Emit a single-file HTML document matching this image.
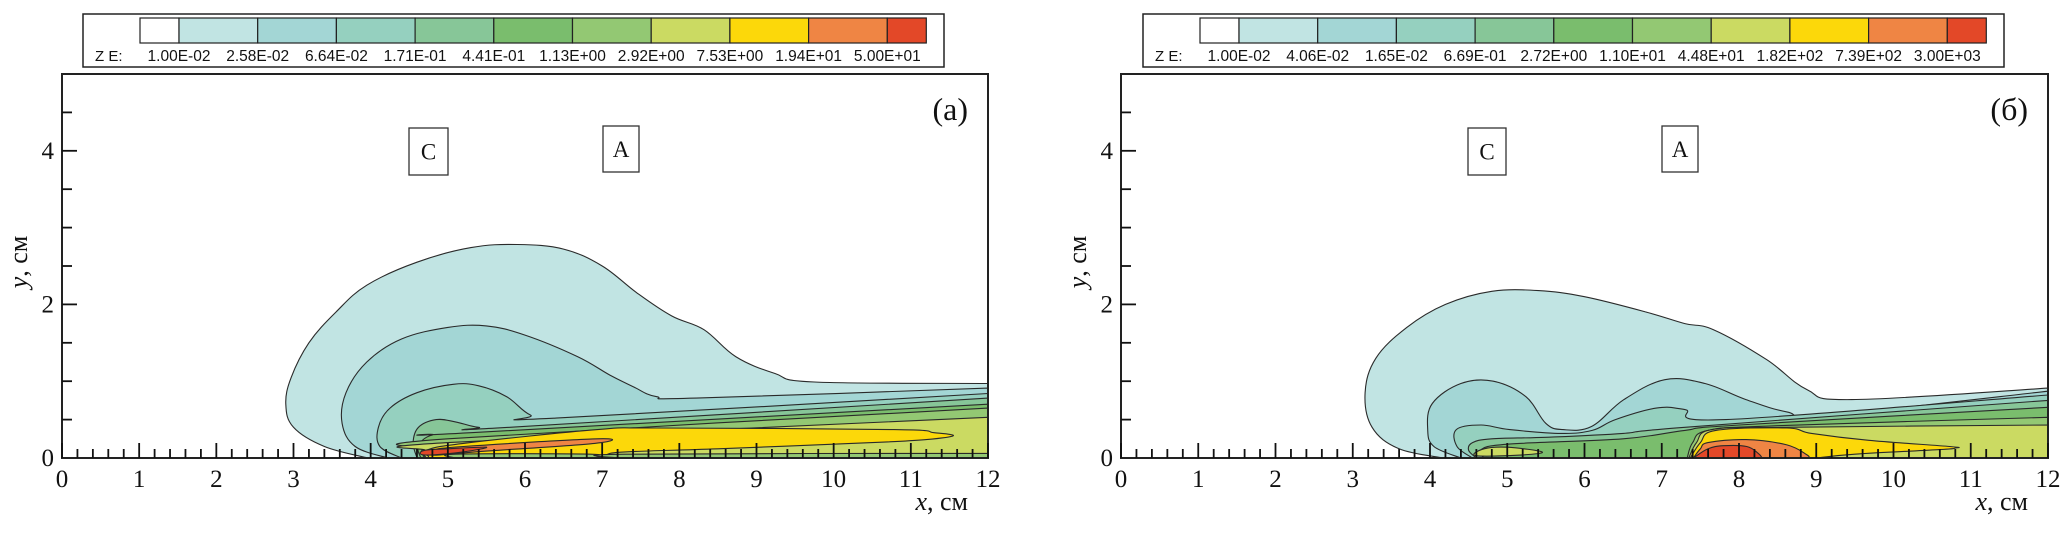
<!DOCTYPE html>
<html><head><meta charset="utf-8">
<style>
html,body{margin:0;padding:0;background:#fff;}
svg{display:block;}
</style></head>
<body>
<svg id="chart" width="2067" height="540" viewBox="0 0 2067 540" xmlns="http://www.w3.org/2000/svg"></svg>
<script>
// ---- data ----
const bandColors = ["#c1e4e3","#a3d6d5","#95d0bf","#87c698","#7abd6d","#93c873","#cbda62","#fcd80a","#ef8544","#e34828"];
const labelsA = ["1.00E-02","2.58E-02","6.64E-02","1.71E-01","4.41E-01","1.13E+00","2.92E+00","7.53E+00","1.94E+01","5.00E+01"];
const labelsB = ["1.00E-02","4.06E-02","1.65E-02","6.69E-01","2.72E+00","1.10E+01","4.48E+01","1.82E+02","7.39E+02","3.00E+03"];
const xTickLabels = [0,1,2,3,4,5,6,7,8,9,10,11,12];
const yTickLabels = [0,2,4];

const contoursA = [
 [[3.96,0],[3.4,0.15],[3.0,0.4],[2.9,0.7],[2.97,1.05],[3.2,1.5],[3.55,1.9],[3.95,2.25],[4.6,2.55],[5.3,2.74],[5.9,2.78],[6.5,2.72],[7.0,2.5],[7.45,2.15],[7.9,1.85],[8.32,1.67],[8.73,1.32],[9.24,1.1],[9.75,0.99],[12,0.97],[12,0]],
 [[4.22,0],[3.8,0.15],[3.63,0.45],[3.68,0.85],[3.95,1.25],[4.4,1.55],[5.0,1.7],[5.5,1.72],[6.0,1.6],[6.68,1.32],[7.1,1.08],[7.4,0.93],[7.7,0.8],[8.22,0.78],[12,0.91],[12,0]],
 [[4.4,0],[4.12,0.15],[4.1,0.4],[4.25,0.65],[4.6,0.85],[5.07,0.96],[5.4,0.94],[5.76,0.8],[6.07,0.56],[6.4,0.52],[12,0.84],[12,0]],
 [[4.6,0],[4.55,0.2],[4.62,0.4],[4.85,0.5],[5.1,0.47],[5.4,0.4],[5.8,0.4],[12,0.78],[12,0]],
 [[4.65,0],[4.62,0.15],[4.8,0.3],[5.3,0.33],[12,0.7],[12,0]],
 [[4.7,0],[4.68,0.12],[5.0,0.25],[12,0.65],[12,0]],
 [[4.72,0],[4.7,0.1],[5.0,0.2],[12,0.53],[12,0]],
 [[4.75,0.02],[4.72,0.1],[5.2,0.19],[6.94,0.37],[7.7,0.39],[10.78,0.37],[11.3,0.33],[11.55,0.29],[11.2,0.24],[10.5,0.2],[8.5,0.12],[7.3,0.08],[7.05,0.04],[7.0,0],[4.75,0]],
 [[4.75,0.05],[4.8,0.1],[5.2,0.15],[6.94,0.25],[6.9,0.19],[5.5,0.09],[4.9,0.04]],
 [[4.65,0.05],[4.7,0.1],[5.0,0.12],[5.5,0.14],[5.2,0.08],[4.8,0.04]]
];
const stripsA = [[[5.1,0],[5.1,0.05],[6.85,0.05],[6.9,0]],[[7.2,0],[7.3,0.05],[12,0.06],[12,0]]];
const stripLevelA = [5,5];

const contoursB = [
 [[4.17,0],[3.6,0.12],[3.25,0.4],[3.16,0.85],[3.3,1.3],[3.7,1.7],[4.2,2.0],[4.8,2.17],[5.4,2.18],[6.0,2.1],[6.8,1.9],[7.3,1.75],[7.67,1.67],[8.36,1.28],[8.88,0.89],[9.46,0.76],[12,0.91],[12,0]],
 [[4.4,0],[4.05,0.15],[3.97,0.37],[4.03,0.71],[4.4,0.97],[4.82,1.0],[5.24,0.8],[5.5,0.45],[5.72,0.37],[6.09,0.41],[6.51,0.76],[7.04,1.02],[7.56,0.97],[8.09,0.76],[8.62,0.6],[9.15,0.56],[12,0.87],[12,0]],
 [[4.55,0],[4.35,0.15],[4.34,0.37],[4.66,0.43],[5.03,0.37],[5.7,0.32],[6.1,0.36],[6.4,0.5],[6.93,0.65],[7.3,0.63],[7.83,0.5],[12,0.82],[12,0]],
 [[4.6,0],[4.5,0.1],[4.55,0.2],[4.8,0.25],[5.5,0.27],[6.5,0.32],[7.3,0.4],[12,0.75],[12,0]],
 [[4.7,0],[4.65,0.1],[5.0,0.18],[6.5,0.25],[7.3,0.36],[8,0.43],[12,0.66],[12,0]],
 [[7.33,0],[7.4,0.2],[7.6,0.36],[8.5,0.42],[12,0.53],[12,0]],
 [[7.35,0],[7.45,0.2],[7.65,0.37],[8.6,0.4],[12,0.43],[12,0]],
 [[7.37,0],[7.5,0.2],[7.7,0.36],[8.62,0.39],[8.94,0.32],[9.68,0.23],[10.73,0.15],[10.8,0.13],[10.6,0.11],[9.5,0.05],[9.0,0]],
 [[7.41,0],[7.5,0.12],[7.6,0.2],[8.09,0.24],[8.62,0.17],[8.88,0.04],[8.9,0]],
 [[7.41,0],[7.6,0.12],[7.8,0.16],[8.1,0.15],[8.25,0.06],[8.3,0]]
];
const stripsB = [[[4.6,0.03],[4.7,0.12],[5.0,0.14],[5.45,0.08],[5.2,0.04]]];
const stripLevelB = [6];

const panels = [
 {id:"a", x0:62, x1:988, tag:"(a)", labels:labelsA, contours:contoursA, strips:stripsA, stripLv:stripLevelA, boxC:[409,128,39,47], boxA:[603,126,36,46], cb:83},
 {id:"b", x0:1121, x1:2048, tag:"(б)", labels:labelsB, contours:contoursB, strips:stripsB, stripLv:stripLevelB, boxC:[1468,128,38,47], boxA:[1662,126,36,46], cb:1143}
];
const YTOP = 74, YBOT = 458, XMAX = 12, YMAX = 5;

const svg = document.getElementById('chart');
const NS = "http://www.w3.org/2000/svg";
function mk(tag, attrs, parent){
  const e = document.createElementNS(NS, tag);
  for (const k in attrs) e.setAttribute(k, attrs[k]);
  (parent||svg).appendChild(e);
  return e;
}
const serif = '"Liberation Serif", "DejaVu Serif", serif';
const sans = '"Liberation Sans", "DejaVu Sans", sans-serif';

// closed Catmull-Rom smoothing, straight along plot edges
function smoothPath(P, xR){
  const n = P.length;
  const isEdge = (a, b) => (Math.abs(a[1]-b[1])<0.5 && a[1]>=YBOT-0.5) || (Math.abs(a[0]-b[0])<0.5 && a[0]>=xR-0.5);
  let d = 'M' + P[0][0].toFixed(1) + ',' + P[0][1].toFixed(1);
  for (let i = 0; i < n; i++) {
    let p0 = P[(i-1+n)%n], p1 = P[i], p2 = P[(i+1)%n], p3 = P[(i+2)%n];
    if (isEdge(p1, p2)) { d += ' L' + p2[0].toFixed(1) + ',' + p2[1].toFixed(1); continue; }
    if (isEdge(p0, p1)) p0 = p1;
    if (isEdge(p2, p3)) p3 = p2;
    const t = 0.18;
    const c1x = p1[0] + (p2[0]-p0[0])*t, c1y = p1[1] + (p2[1]-p0[1])*t;
    const c2x = p2[0] - (p3[0]-p1[0])*t, c2y = p2[1] - (p3[1]-p1[1])*t;
    d += ' C' + c1x.toFixed(1) + ',' + c1y.toFixed(1) + ' ' + c2x.toFixed(1) + ',' + c2y.toFixed(1) + ' ' + p2[0].toFixed(1) + ',' + p2[1].toFixed(1);
  }
  return d + ' Z';
}

panels.forEach(p => {
  const sx = v => p.x0 + v*(p.x1-p.x0)/XMAX;
  const sy = v => YBOT - v*(YBOT-YTOP)/YMAX;
  const g = mk('g', {});
  
  

  // colorbar legend
  const lg = mk('g', {}, g);
  
  
  mk('rect', {x:p.cb, y:14, width:861, height:53, fill:'#fff', stroke:'#222', 'stroke-width':1.5}, lg);
  const sw0 = p.cb + 57, bw = 78.7;
  const wsw = mk('rect', {x:sw0, y:18, width:39, height:25, fill:'#fff', stroke:'#222', 'stroke-width':1.2}, lg);
  
  
  bandColors.forEach((c,i) => {
    const w = (i === bandColors.length-1) ? 39 : bw;
    const r = mk('rect', {x:sw0+39+i*bw, y:18, width:w, height:25, fill:c, stroke:'#222', 'stroke-width':1.2}, lg);
    
    
  });
  const zt = mk('text', {x:p.cb+12, y:61, 'font-family':sans, 'font-size':15, fill:'#111'}, lg);
  zt.textContent = 'Z E:';
  
  
  p.labels.forEach((l,i) => {
    const t = mk('text', {x:sw0+39+i*bw, y:61, 'font-family':sans, 'font-size':15.5, 'text-anchor':'middle', fill:'#111'}, lg);
    t.textContent = l;
    
    
  });

  // contour bands
  const clip = mk('clipPath', {id:'clip'+p.id}, g);
  mk('rect', {x:p.x0, y:YTOP, width:p.x1-p.x0, height:YBOT-YTOP}, clip);
  const cg = mk('g', {'clip-path':'url(#clip'+p.id+')'}, g);
  
  
  const drawPoly = (pts, lv, name) => {
    const P = pts.map(q => [sx(q[0]), sy(q[1])]);
    const el = mk('path', {d:smoothPath(P, p.x1), fill:bandColors[lv], stroke:'#2a2a2a', 'stroke-width':1.1, 'stroke-linejoin':'round'}, cg);
    
    
  };
  p.contours.forEach((pts, lv) => drawPoly(pts, lv, 'contour-level-' + (lv+1)));
  p.strips.forEach((pts, i) => drawPoly(pts, p.stripLv[i], 'contour-strip'));

  // frame
  const fr = mk('rect', {x:p.x0, y:YTOP, width:p.x1-p.x0, height:YBOT-YTOP, fill:'none', stroke:'#222', 'stroke-width':2}, g);
  
  

  // x ticks
  for (let k = 0; k <= 60; k++) {
    const v = k*0.2, major = (k % 5 === 0);
    const tk = mk('line', {x1:sx(v), x2:sx(v), y1:YBOT, y2:YBOT-(major?15:9), stroke:'#111', 'stroke-width':1.8}, g);
    
    
  }
  xTickLabels.forEach(v => {
    const t = mk('text', {x:sx(v), y:487, 'font-family':serif, 'font-size':25, 'text-anchor':'middle', fill:'#111'}, g);
    t.textContent = v;
    
    
  });
  // y ticks
  for (let k = 1; k <= 9; k++) {
    const v = k*0.5, major = (k % 4 === 0);
    const tk = mk('line', {x1:p.x0, x2:p.x0+(major?15:10), y1:sy(v), y2:sy(v), stroke:'#111', 'stroke-width':1.8}, g);
    
    
  }
  yTickLabels.forEach(v => {
    const t = mk('text', {x:p.x0-8, y:sy(v)+8, 'font-family':serif, 'font-size':25, 'text-anchor':'end', fill:'#111'}, g);
    t.textContent = v;
    
    
  });
  // axis titles
  const xt = mk('text', {x:p.x1-20, y:510, 'font-family':serif, 'font-size':26, 'text-anchor':'end', fill:'#111'}, g);
  xt.innerHTML = '<tspan font-style="italic">x</tspan>, см';
  
  
  const yt = mk('text', {x:0, y:0, 'font-family':serif, 'font-size':26, 'text-anchor':'middle', fill:'#111', transform:'translate('+(p.x0-35)+',262) rotate(-90)'}, g);
  yt.innerHTML = '<tspan font-style="italic">y</tspan>, см';
  
  
  // panel tag
  const tg = mk('text', {x:p.x1-20, y:120, 'font-family':serif, 'font-size':32, 'text-anchor':'end', fill:'#111'}, g);
  tg.textContent = p.tag;
  
  
  // C and A boxes
  [['C',p.boxC,'point-c-label'],['A',p.boxA,'point-a-label']].forEach(b => {
    const bx = b[1];
    const bg = mk('g', {}, g);
    
    
    mk('rect', {x:bx[0], y:bx[1], width:bx[2], height:bx[3], fill:'#fff', stroke:'#333', 'stroke-width':1.3}, bg);
    const t = mk('text', {x:bx[0]+bx[2]/2, y:bx[1]+bx[3]/2+8, 'font-family':serif, 'font-size':23, 'text-anchor':'middle', fill:'#111'}, bg);
    t.textContent = b[0];
  });
});
</script>
</body></html>
